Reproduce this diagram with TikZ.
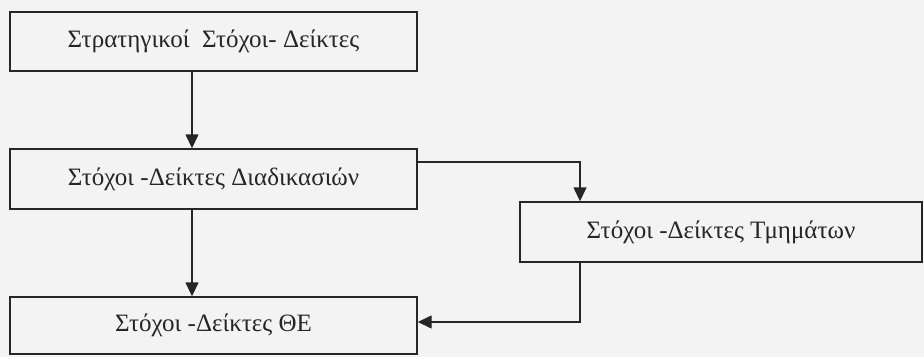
\documentclass[tikz,border=0pt]{standalone}
\usepackage{fontspec}
\setmainfont{Liberation Serif}
\usetikzlibrary{arrows.meta}
\definecolor{bgc}{HTML}{F3F3F3}
\definecolor{ink}{HTML}{262626}
\begin{document}
\begin{tikzpicture}[x=1pt,y=-1pt,
  boxn/.style={draw=ink, line width=1.4pt, fill=bgc, rectangle, inner sep=0pt,
    text=ink, font=\fontsize{25}{28}\selectfont},
  conn/.style={draw=ink, line width=1.4pt, -{Triangle[length=14pt,width=13pt]}}]
\fill[bgc] (0,0) rectangle (924,357);
\useasboundingbox (0,0) rectangle (924,357);
\node[boxn, minimum width=407pt, minimum height=59pt] (b1) at (213.5,41.5) {Στρατηγικοί\ \ Στόχοι- Δείκτες};
\node[boxn, minimum width=407pt, minimum height=60pt] (b2) at (213.5,179) {Στόχοι -Δείκτες Διαδικασιών};
\node[boxn, minimum width=407pt, minimum height=57pt] (b3) at (213.5,325.5) {Στόχοι -Δείκτες ΘΕ};
\node[boxn, minimum width=402pt, minimum height=60pt] (b4) at (721,232) {Στόχοι -Δείκτες Τμημάτων};
\coordinate (k1) at (580,162);
\coordinate (k2) at (580,322);
\draw[conn] (b1.south -| 192,0) -- (b2.north -| 192,0);
\draw[conn] (b2.south -| 192,0) -- (b3.north -| 192,0);
\draw[conn] (b2.east |- k1) -- (k1) -- (b4.north -| k1);
\draw[conn] (b4.south -| k2) -- (k2) -- (b3.east |- k2);
\end{tikzpicture}
\end{document}
